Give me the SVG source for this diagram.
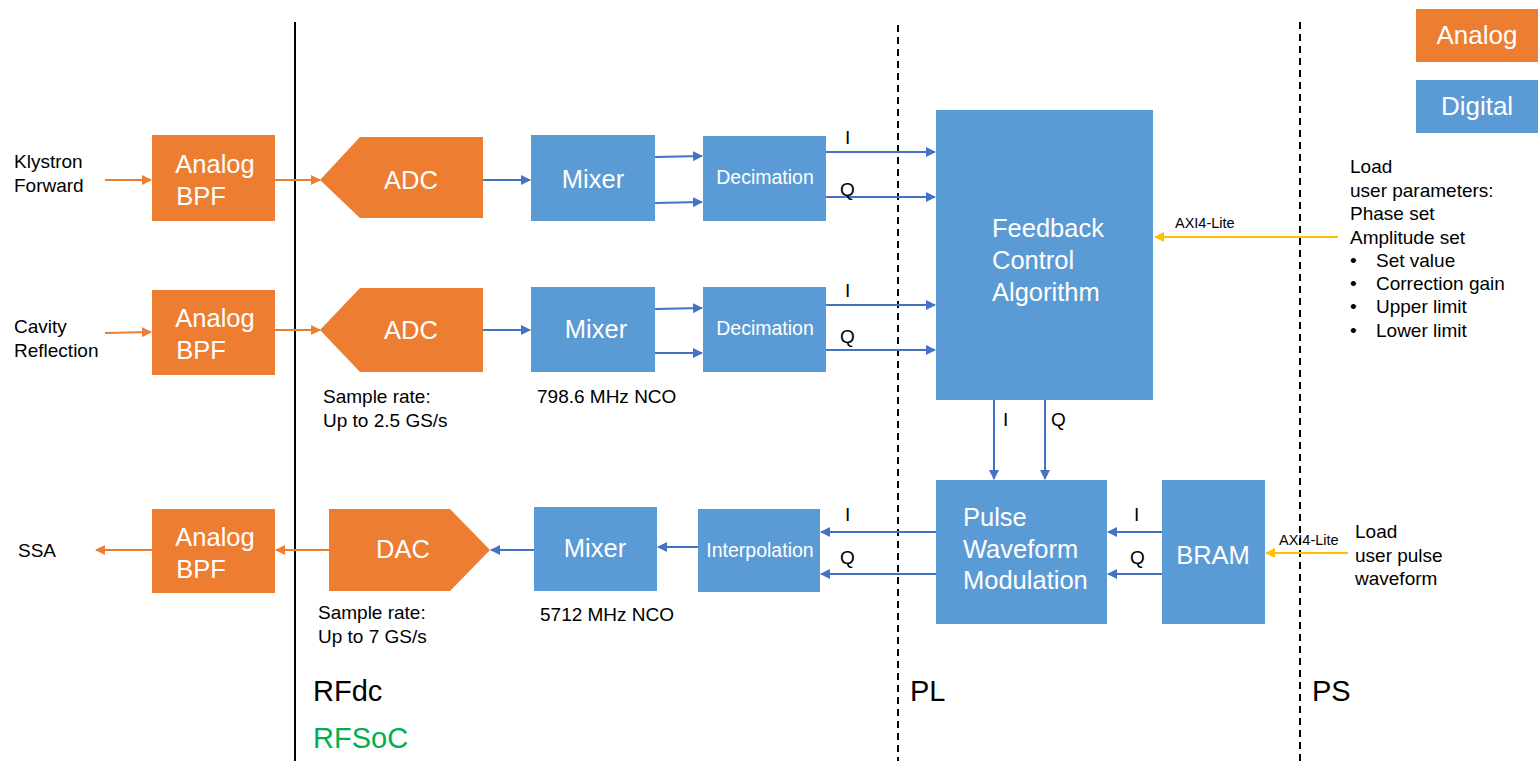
<svg xmlns="http://www.w3.org/2000/svg" width="1538" height="761" viewBox="0 0 1538 761">
<style>
.an{fill:#ED7D31}
.dg{fill:#5B9BD5}
.bt{font-family:"Liberation Sans",Arial,sans-serif;fill:#fff;font-size:25.5px}
.sm{font-size:19.5px}
.t{font-family:"Liberation Sans",Arial,sans-serif;fill:#000;font-size:19px}
.big{font-size:29px}
.ax{font-size:14.5px}
.ob{stroke:#ED7D31;stroke-width:2;fill:none;marker-end:url(#ao)}
.bb{stroke:#4472C4;stroke-width:2;fill:none;marker-end:url(#ab)}
.yb{stroke:#FFC000;stroke-width:2;fill:none;marker-end:url(#ay)}
</style>
<defs>
<marker id="ao" markerWidth="10" markerHeight="10" refX="9" refY="5" orient="auto" markerUnits="userSpaceOnUse"><path d="M0,0 L10,5 L0,10 z" fill="#ED7D31"/></marker>
<marker id="ab" markerWidth="10" markerHeight="10" refX="9" refY="5" orient="auto" markerUnits="userSpaceOnUse"><path d="M0,0 L10,5 L0,10 z" fill="#4472C4"/></marker>
<marker id="ay" markerWidth="10" markerHeight="10" refX="9" refY="5" orient="auto" markerUnits="userSpaceOnUse"><path d="M0,0 L10,5 L0,10 z" fill="#FFC000"/></marker>
</defs>
<rect width="1538" height="761" fill="#fff"/>
<g id="dividers">
<line x1="295" y1="22" x2="295" y2="761" stroke="#000" stroke-width="2"/>
<line x1="898" y1="25" x2="898" y2="761" stroke="#000" stroke-width="2" stroke-dasharray="7,5"/>
<line x1="1300" y1="22" x2="1300" y2="761" stroke="#000" stroke-width="2" stroke-dasharray="7,5"/>
</g>
<g id="legend-analog"><rect class="an" x="1416" y="9" width="122" height="53"/><text class="bt" x="1477" y="44" text-anchor="middle" style="font-size:26px">Analog</text></g>
<g id="legend-digital"><rect class="dg" x="1416" y="80" width="122" height="53"/><text class="bt" x="1477" y="115" text-anchor="middle" style="font-size:26px">Digital</text></g>

<g id="connectors">
<line class="ob" x1="105" y1="180" x2="151" y2="180"/>
<line class="ob" x1="275" y1="180" x2="320" y2="180"/>
<line class="bb" x1="483" y1="180" x2="530" y2="180"/>
<line class="bb" x1="655" y1="157" x2="702" y2="156"/>
<line class="bb" x1="655" y1="203" x2="702" y2="202"/>
<line class="bb" x1="826" y1="152" x2="935" y2="152"/>
<line class="bb" x1="826" y1="197" x2="935" y2="197"/>
<line class="ob" x1="105" y1="333" x2="151" y2="332"/>
<line class="ob" x1="275" y1="330" x2="320" y2="330"/>
<line class="bb" x1="483" y1="330" x2="530" y2="330"/>
<line class="bb" x1="655" y1="309" x2="702" y2="308"/>
<line class="bb" x1="655" y1="353" x2="702" y2="353"/>
<line class="bb" x1="826" y1="305" x2="935" y2="305"/>
<line class="bb" x1="826" y1="350" x2="935" y2="350"/>
<line class="bb" x1="994" y1="400" x2="994" y2="479"/>
<line class="bb" x1="1045" y1="400" x2="1045" y2="479"/>
<line class="bb" x1="1162" y1="532" x2="1108" y2="532"/>
<line class="bb" x1="1162" y1="574" x2="1108" y2="574"/>
<line class="bb" x1="936" y1="532" x2="821" y2="532"/>
<line class="bb" x1="936" y1="574" x2="821" y2="574"/>
<line class="bb" x1="698" y1="547" x2="658" y2="547"/>
<line class="bb" x1="534" y1="550" x2="491" y2="550"/>
<line class="ob" x1="329" y1="550" x2="276" y2="550"/>
<line class="ob" x1="152" y1="550" x2="96" y2="550"/>
<line class="yb" x1="1338" y1="237" x2="1155" y2="237"/>
<line class="yb" x1="1348" y1="553" x2="1266" y2="553"/>
<text class="t" x="845" y="144">I</text>
<text class="t" x="840" y="196">Q</text>
<text class="t" x="845" y="297">I</text>
<text class="t" x="840" y="343">Q</text>
<text class="t" x="1003" y="426">I</text>
<text class="t" x="1051" y="426">Q</text>
<text class="t" x="1134" y="521">I</text>
<text class="t" x="1130" y="564">Q</text>
<text class="t" x="845" y="521">I</text>
<text class="t" x="840" y="564">Q</text>
<text class="t ax" x="1175" y="228">AXI4-Lite</text>
<text class="t ax" x="1279" y="545">AXI4-Lite</text>
</g>

<g id="klystron-label"><text class="t" x="14" y="168">Klystron</text><text class="t" x="14" y="192">Forward</text></g>
<g id="cavity-label"><text class="t" x="14" y="333">Cavity</text><text class="t" x="14" y="357">Reflection</text></g>
<g id="ssa-label"><text class="t" x="18" y="557">SSA</text></g>

<g id="bpf1"><rect class="an" x="152" y="135" width="123" height="86"/><text class="bt" x="215" y="173" text-anchor="middle">Analog</text><text class="bt" x="201" y="205" text-anchor="middle">BPF</text></g>
<g id="bpf2"><rect class="an" x="152" y="290" width="123" height="85"/><text class="bt" x="215" y="327" text-anchor="middle">Analog</text><text class="bt" x="201" y="359" text-anchor="middle">BPF</text></g>
<g id="bpf3"><rect class="an" x="152" y="509" width="123" height="84"/><text class="bt" x="215" y="546" text-anchor="middle">Analog</text><text class="bt" x="201" y="578" text-anchor="middle">BPF</text></g>

<g id="adc1"><polygon class="an" points="320,180 360,137 483,137 483,218 360,218"/><text class="bt" x="411" y="189" text-anchor="middle">ADC</text></g>
<g id="adc2"><polygon class="an" points="320,330 360,288 483,288 483,372 360,372"/><text class="bt" x="411" y="339" text-anchor="middle">ADC</text></g>
<g id="dac"><polygon class="an" points="329,509 450,509 490,550 450,591 329,591"/><text class="bt" x="403" y="558" text-anchor="middle">DAC</text></g>

<g id="mixer1"><rect class="dg" x="531" y="135" width="124" height="86"/><text class="bt" x="593" y="188" text-anchor="middle">Mixer</text></g>
<g id="mixer2"><rect class="dg" x="531" y="287" width="124" height="85"/><text class="bt" x="596" y="338" text-anchor="middle">Mixer</text></g>
<g id="mixer3"><rect class="dg" x="534" y="507" width="123" height="84"/><text class="bt" x="595" y="557" text-anchor="middle">Mixer</text></g>

<g id="decim1"><rect class="dg" x="703" y="136" width="123" height="85"/><text class="bt sm" x="765" y="184" text-anchor="middle">Decimation</text></g>
<g id="decim2"><rect class="dg" x="703" y="287" width="123" height="85"/><text class="bt sm" x="765" y="335" text-anchor="middle">Decimation</text></g>
<g id="interp"><rect class="dg" x="698" y="509" width="122" height="83"/><text class="bt sm" x="760" y="557" text-anchor="middle">Interpolation</text></g>

<g id="feedback"><rect class="dg" x="936" y="110" width="217" height="290"/><text class="bt" x="992" y="237">Feedback</text><text class="bt" x="992" y="269">Control</text><text class="bt" x="992" y="301">Algorithm</text></g>
<g id="pwm"><rect class="dg" x="936" y="480" width="171" height="144"/><text class="bt" x="963" y="526">Pulse</text><text class="bt" x="963" y="558">Waveform</text><text class="bt" x="963" y="589">Modulation</text></g>
<g id="bram"><rect class="dg" x="1162" y="480" width="103" height="144"/><text class="bt" x="1213" y="564" text-anchor="middle">BRAM</text></g>

<g id="notes">
<text class="t" x="323" y="403">Sample rate:</text><text class="t" x="323" y="427">Up to 2.5 GS/s</text>
<text class="t" x="537" y="403">798.6 MHz NCO</text>
<text class="t" x="318" y="619">Sample rate:</text><text class="t" x="318" y="643">Up to 7 GS/s</text>
<text class="t" x="540" y="621">5712 MHz NCO</text>
<text class="t" x="1350" y="173">Load</text>
<text class="t" x="1350" y="197">user parameters:</text>
<text class="t" x="1350" y="220">Phase set</text>
<text class="t" x="1350" y="244">Amplitude set</text>
<text class="t" x="1350" y="267">•</text><text class="t" x="1376" y="267">Set value</text>
<text class="t" x="1350" y="290">•</text><text class="t" x="1376" y="290">Correction gain</text>
<text class="t" x="1350" y="313">•</text><text class="t" x="1376" y="313">Upper limit</text>
<text class="t" x="1350" y="337">•</text><text class="t" x="1376" y="337">Lower limit</text>
<text class="t" x="1355" y="538">Load</text>
<text class="t" x="1355" y="562">user pulse</text>
<text class="t" x="1355" y="585">waveform</text>
</g>
<g id="regions">
<text class="t big" x="313" y="701">RFdc</text>
<text class="t big" x="313" y="748" style="fill:#00B050">RFSoC</text>
<text class="t big" x="910" y="701">PL</text>
<text class="t big" x="1312" y="701">PS</text>
</g>
</svg>
